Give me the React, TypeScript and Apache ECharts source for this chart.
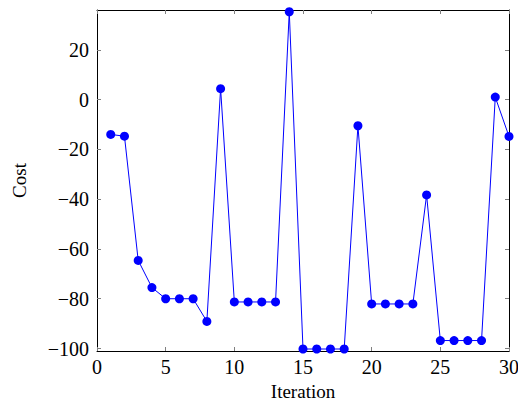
import React, { useEffect, useRef } from "react";
import * as echarts from "echarts";

const iterations = [1,2,3,4,5,6,7,8,9,10,11,12,13,14,15,16,17,18,19,20,21,22,23,24,25,26,27,28,29,30];
const cost = [-14,-14.7,-64.6,-75.5,-80,-80,-80,-89.1,4.4,-81.3,-81.3,-81.3,-81.3,35.3,-100.2,-100.2,-100.2,-100.2,-10.5,-82.1,-82.1,-82.1,-82.1,-38.3,-96.8,-96.8,-96.8,-96.8,1.0,-14.8];
const yTicks = [-100,-80,-60,-40,-20,0,20];
const xTicks = [0,5,10,15,20,25,30];

const FONT = "Liberation Serif";
const fmt = (v: number) => (v < 0 ? "\u2212" + Math.abs(v) : String(v));

export default function App() {
  const ref = useRef<HTMLDivElement>(null);
  useEffect(() => {
    const chart = echarts.init(ref.current!, null, { renderer: "svg" });
    const tickStyle = { show: true, inside: true, length: 4, lineStyle: { color: "#808080", width: 1 } };
    chart.setOption({
      animation: false,
      textStyle: { fontFamily: FONT },
      grid: { left: 97, right: 9, top: 10, bottom: 52, containLabel: false, outerBoundsMode: "none" },
      xAxis: [
        {
          type: "value", min: 0, max: 30, interval: 5,
          name: "Iteration", nameLocation: "middle", nameGap: 31,
          nameTextStyle: { fontFamily: FONT, fontSize: 19, color: "#000" },
          axisLine: { show: true, onZero: false, lineStyle: { color: "#000", width: 1 } },
          axisTick: { ...tickStyle, customValues: xTicks },
          axisLabel: { fontFamily: FONT, fontSize: 20, color: "#000", margin: 6, customValues: xTicks, formatter: fmt, showMinLabel: true, showMaxLabel: true },
          splitLine: { show: false },
        },
        {
          type: "value", min: 0, max: 30, interval: 5, position: "top",
          axisLine: { show: true, onZero: false, lineStyle: { color: "#000", width: 1 } },
          axisTick: { ...tickStyle, customValues: xTicks },
          axisLabel: { show: false },
          splitLine: { show: false },
        },
      ],
      yAxis: [
        {
          type: "value", min: -101, max: 36,
          name: "Cost", nameLocation: "middle", nameGap: 68,
          nameTextStyle: { fontFamily: FONT, fontSize: 19, color: "#000" },
          axisLine: { show: true, onZero: false, lineStyle: { color: "#000", width: 1 } },
          axisTick: { ...tickStyle, customValues: yTicks },
          axisLabel: { fontFamily: FONT, fontSize: 20, color: "#000", margin: 8, customValues: yTicks, formatter: fmt },
          splitLine: { show: false },
        },
        {
          type: "value", min: -101, max: 36, position: "right",
          axisLine: { show: true, onZero: false, lineStyle: { color: "#000", width: 1 } },
          axisTick: { ...tickStyle, customValues: yTicks },
          axisLabel: { show: false },
          splitLine: { show: false },
        },
      ],
      series: [
        {
          type: "line",
          data: iterations.map((x, i) => [x, cost[i]]),
          symbol: "circle",
          symbolSize: 9,
          clip: false,
          lineStyle: { color: "#0000ff", width: 1 },
          itemStyle: { color: "#0000ff" },
        },
      ],
    });
    return () => chart.dispose();
  }, []);
  return <div ref={ref} style={{ width: 518, height: 403, position: "absolute", left: 0, top: 0 }} />;
}
